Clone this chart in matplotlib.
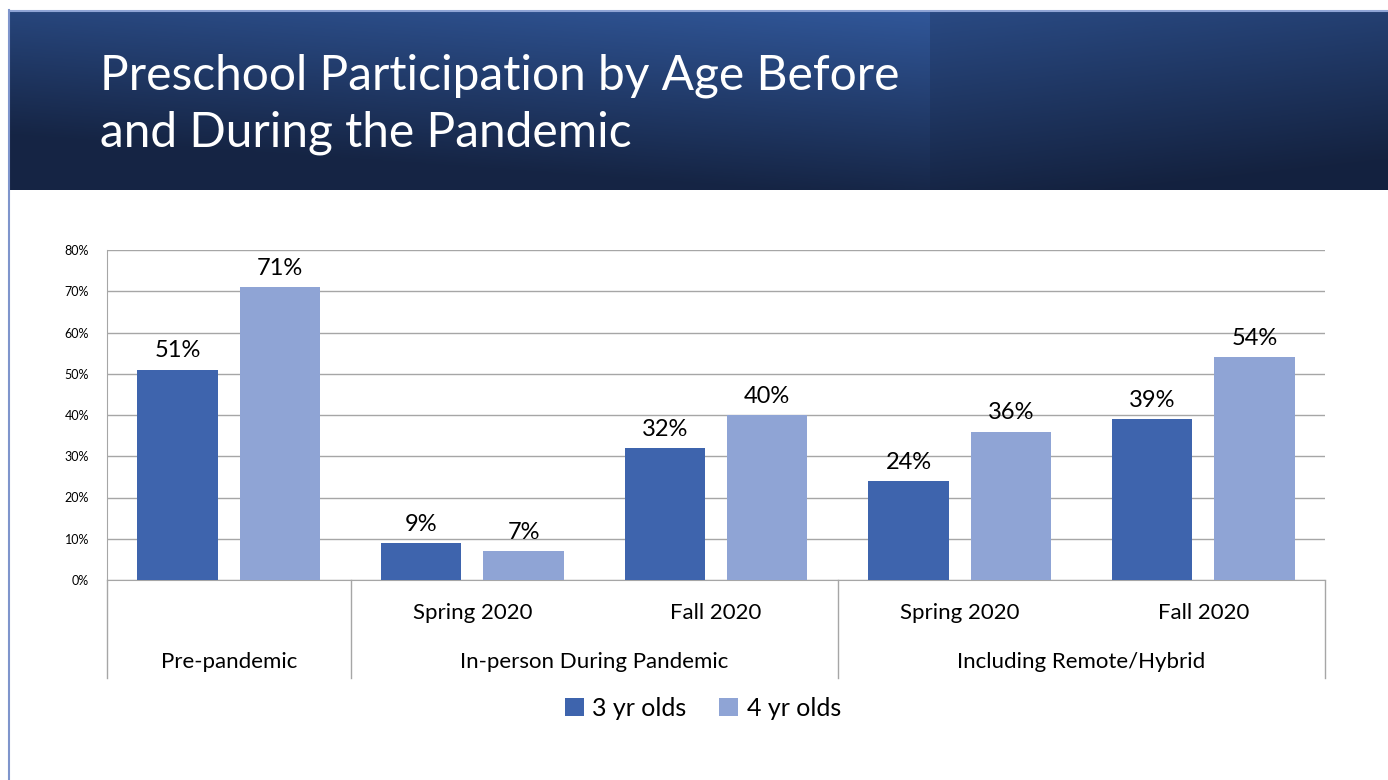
import matplotlib.pyplot as plt
import numpy as np
from matplotlib.transforms import blended_transform_factory

# data
sub_labels = ['', 'Spring 2020', 'Fall 2020', 'Spring 2020', 'Fall 2020']
group_labels = ['Pre-pandemic', 'In-person During Pandemic', 'Including Remote/Hybrid']
group_spans = [(0, 0), (1, 2), (3, 4)]
three_yr = [51, 9, 32, 24, 39]
four_yr = [71, 7, 40, 36, 54]
series_names = ['3 yr olds', '4 yr olds']

C3 = '#3E64AD'
C4 = '#8FA4D5'
GRID = '#A6A6A6'
FONT = ['Lato', 'DejaVu Sans']

plt.rcParams['font.family'] = FONT

W, H = 1388, 780
fig = plt.figure(figsize=(W / 100, H / 100), dpi=100)

# background / header
bg = fig.add_axes([0, 0, 1, 1])
bg.axis('off')

yy, xx = np.mgrid[0:1:120j, 0:1:400j]
c_dark = np.array([0.05, 0.08, 0.16])
c_light = np.array([0.19, 0.34, 0.60])
left_grad = 0.25 + 0.75 * np.clip(1.0 - yy * 0.95 - (1 - xx) * 0.35, 0, 1)
img_l = c_dark + (c_light - c_dark) * left_grad[..., None]
bg.imshow(img_l, extent=(10, 930, 190, 12), aspect='auto', zorder=1)
right_grad = 0.2 + 0.6 * np.clip(1.0 - yy * 0.9 - xx * 0.25, 0, 1)
img_r = c_dark + (c_light - c_dark) * right_grad[..., None]
bg.imshow(img_r, extent=(930, W, 190, 12), aspect='auto', zorder=1)
bg.plot([10, W], [10.5, 10.5], color='#8FA4D5', lw=1.5, zorder=2)
bg.plot([9.5, 9.5], [10, H], color='#7F95CC', lw=1.5, zorder=2)
bg.set_xlim(0, W)
bg.set_ylim(H, 0)

bg.text(100, 76, 'Preschool Participation by Age Before', color='white',
        fontsize=34.5, va='center', ha='left')
bg.text(100, 133, 'and During the Pandemic', color='white',
        fontsize=34.5, va='center', ha='left')

# chart
ax = fig.add_axes([107 / W, (H - 580) / H, 1218 / W, 330 / H])
x = np.arange(len(three_yr))
bw = 0.33
off = 0.21
b3 = ax.bar(x - off, three_yr, bw, color=C3, zorder=3, label=series_names[0])
b4 = ax.bar(x + off, four_yr, bw, color=C4, zorder=3, label=series_names[1])
for bars, vals in ((b3, three_yr), (b4, four_yr)):
    for r, v in zip(bars, vals):
        ax.text(r.get_x() + r.get_width() / 2, v + 2.0, f'{v}%',
                ha='center', va='bottom', fontsize=17, color='black')

ax.set_xlim(-0.5, len(x) - 0.5)
ax.set_ylim(0, 80)
ax.set_yticks(range(0, 81, 10))
ax.set_yticklabels([f'{t}%' for t in range(0, 81, 10)], fontsize=9)
ax.tick_params(axis='y', length=0, pad=13)
ax.set_xticks([])
ax.grid(axis='y', color=GRID, lw=1, zorder=0)
for s in ['top', 'right']:
    ax.spines[s].set_visible(False)
ax.spines['left'].set_color(GRID)
ax.spines['bottom'].set_color(GRID)

tr = blended_transform_factory(ax.transData, ax.transAxes)
sub_y = -33 / 330
grp_y = -82 / 330
div_bottom = -98 / 330
for xi, lab in zip(x, sub_labels):
    if lab:
        ax.text(xi, sub_y, lab, transform=tr, ha='center', va='center', fontsize=16)
edges = [-0.5] + [g[1] + 0.5 for g in group_spans]
for e in edges:
    ax.plot([e, e], [0, div_bottom], transform=tr, color=GRID, lw=1, clip_on=False)
for (a, b), lab in zip(group_spans, group_labels):
    ax.text((a + b) / 2, grp_y, lab, transform=tr, ha='center', va='center', fontsize=16)

leg = fig.legend(handles=[b3, b4], labels=series_names, loc='center',
                 bbox_to_anchor=(703 / W, 1 - 708 / H), ncol=2, frameon=False,
                 fontsize=18, handlelength=0.75, handleheight=0.75,
                 handletextpad=0.35, columnspacing=1.3)

fig.savefig('out.png', dpi=100)
